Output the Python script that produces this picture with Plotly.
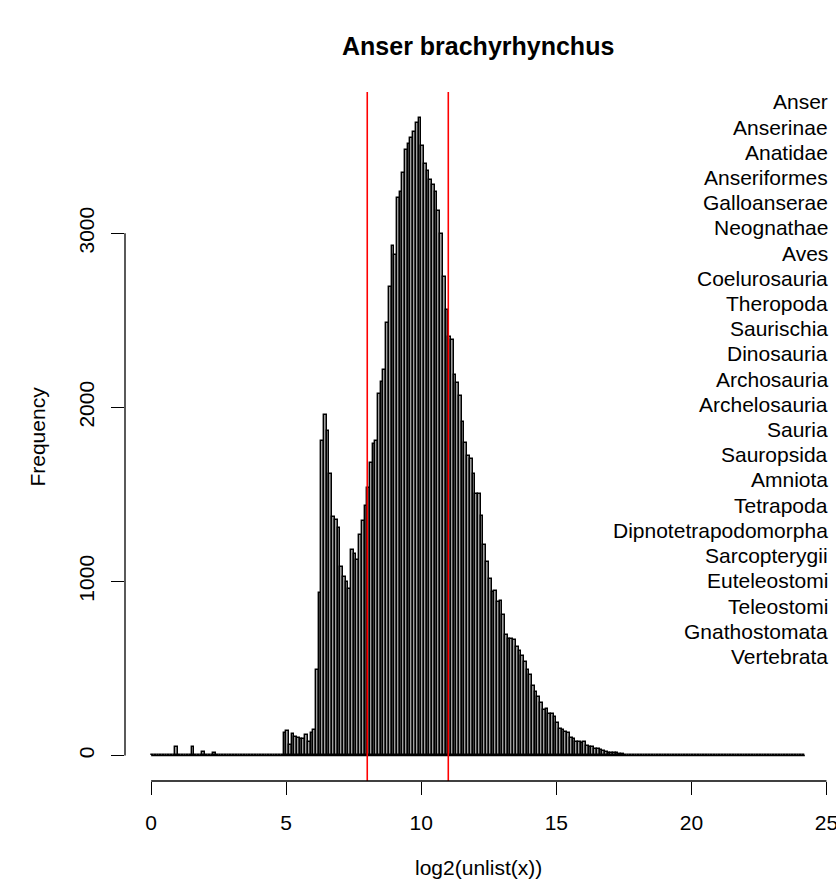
import plotly.graph_objects as go

# ---------------- data ----------------
title = "Anser brachyrhynchus"
x_label = "log2(unlist(x))"
y_label = "Frequency"

bin_start = 0.0
bin_width = 0.1

# bins with left edge 0.0 .. 4.8
counts_low = [0, 0, 0, 0, 0, 0, 0, 0, 0, 48,
              0, 0, 0, 0, 0, 48, 0, 0, 0, 19,
              0, 0, 0, 13, 0, 3, 0, 0, 4, 5,
              0, 3, 3, 0, 2, 2, 2, 2, 2, 2,
              2, 2, 3, 4, 3, 3, 4, 4, 5]
# bins with left edge 4.9 .. 17.6
counts_main = [130, 140, 60, 125, 109, 100, 92, 92, 115, 75,
               128, 148, 492, 933, 1805, 1958, 1862, 1619, 1370, 1351,
               1307, 1082, 1025, 996, 958, 1182, 1155, 1121, 1264, 1345,
               1431, 1538, 1680, 1791, 1804, 2075, 2146, 2216, 2485, 2692,
               2927, 2874, 3205, 3238, 3349, 3477, 3515, 3550, 3582, 3634,
               3665, 3500, 3400, 3358, 3305, 3276, 3238, 3128, 2998, 2749,
               2557, 2404, 2389, 2184, 2140, 2066, 1916, 1797, 1718, 1705,
               1615, 1504, 1500, 1376, 1207, 1111, 1015, 939, 945, 882,
               885, 805, 690, 671, 671, 661, 623, 600, 569, 536,
               492, 460, 397, 364, 335, 301, 259, 265, 240, 236,
               220, 186, 150, 148, 134, 128, 102, 97, 77, 80,
               70, 77, 56, 48, 50, 40, 38, 33, 25, 20,
               17, 17, 14, 12, 10, 8, 5, 3]
# bins with left edge 17.7 .. 24.1
counts_tail = [0, 0, 0, 0, 0, 0, 0, 0, 0, 0,
               0, 0, 0, 0, 0, 0, 0, 0, 0, 0,
               0, 0, 0, 0, 0, 0, 0, 0, 0, 0,
               0, 0, 0, 0, 0, 0, 0, 0, 0, 0,
               0, 0, 0, 0, 0, 0, 0, 0, 0, 0,
               0, 0, 0, 0, 0, 0, 0, 0, 0, 0,
               0, 0, 0, 0, 0]

vlines = [8, 11]
x_ticks = [0, 5, 10, 15, 20, 25]
y_ticks = [0, 1000, 2000, 3000]

taxa = ["Anser", "Anserinae", "Anatidae", "Anseriformes", "Galloanserae",
        "Neognathae", "Aves", "Coelurosauria", "Theropoda", "Saurischia",
        "Dinosauria", "Archosauria", "Archelosauria", "Sauria", "Sauropsida",
        "Amniota", "Tetrapoda", "Dipnotetrapodomorpha", "Sarcopterygii",
        "Euteleostomi", "Teleostomi", "Gnathostomata", "Vertebrata"]

# ---------------- derived ----------------
counts = counts_low + counts_main + counts_tail
edges = [round(bin_start + i * bin_width, 10) for i in range(len(counts) + 1)]
centers = [(edges[i] + edges[i + 1]) / 2 for i in range(len(counts))]

xmin, xmax = edges[0], edges[-1]
ymax = max(counts)
xr = [xmin - 0.04 * (xmax - xmin), xmax + 0.04 * (xmax - xmin)]
yr = [-0.04 * ymax, ymax * 1.04]

W, H = 836, 887
ML, MR, MT, MB = 125, 4.5, 92, 106
PW, PH = W - ML - MR, H - MT - MB


def px_x(px):
    return (px - ML) / PW


def px_y(py):
    return (H - MB - py) / PH


FONT = "Liberation Sans, Arial, Helvetica, sans-serif"
FS = 21

fig = go.Figure()
fig.add_trace(go.Bar(
    x=centers, y=counts, width=bin_width,
    marker=dict(color="#A0A0A0", line=dict(color="black", width=1.4)),
    hoverinfo="skip", showlegend=False,
))
fig.add_trace(go.Scatter(
    x=[xmin, xmax], y=[0, 0], mode="lines",
    line=dict(color="black", width=1.3), hoverinfo="skip", showlegend=False,
))

shapes = []
for v in vlines:
    shapes.append(dict(type="line", xref="x", yref="paper", x0=v, x1=v, y0=0, y1=1,
                       line=dict(color="red", width=1.6), layer="above"))
# axis spines (R style: from first to last tick)
shapes.append(dict(type="line", xref="x", yref="paper", x0=x_ticks[0], x1=x_ticks[-1],
                   y0=0, y1=0, line=dict(color="black", width=1.3)))
shapes.append(dict(type="line", xref="paper", yref="y", x0=0, x1=0,
                   y0=y_ticks[0], y1=y_ticks[-1], line=dict(color="black", width=1.3)))

annotations = [
    dict(text="<b>" + title + "</b>", xref="paper", yref="paper", x=0.5, y=px_y(46),
         xanchor="center", yanchor="middle", showarrow=False,
         font=dict(family=FONT, size=25, color="black")),
    dict(text=x_label, xref="paper", yref="paper", x=0.5, y=px_y(868),
         xanchor="center", yanchor="middle", showarrow=False,
         font=dict(family=FONT, size=FS, color="black")),
    dict(text=y_label, xref="paper", yref="paper", x=px_x(37), y=0.5, textangle=-90,
         xanchor="center", yanchor="middle", showarrow=False,
         font=dict(family=FONT, size=FS, color="black")),
]
for i, name in enumerate(taxa):
    annotations.append(dict(text=name, xref="paper", yref="paper", x=px_x(830),
                            y=px_y(102 + 25.2 * i), xanchor="right", yanchor="middle",
                            showarrow=False, font=dict(family=FONT, size=FS, color="black")))

fig.update_layout(
    width=W, height=H, autosize=False,
    margin=dict(l=ML, r=MR, t=MT, b=MB, pad=0, autoexpand=False),
    plot_bgcolor="white", paper_bgcolor="white",
    bargap=0, showlegend=False,
    font=dict(family=FONT, size=FS, color="black"),
    shapes=shapes, annotations=annotations,
    xaxis=dict(range=xr, tickmode="array", tickvals=x_ticks, ticktext=[str(t) for t in x_ticks],
               ticks="outside", ticklen=13, tickwidth=1.3, tickcolor="black",
               showline=False, showgrid=False, zeroline=False, automargin=False,
               ticklabeloverflow="allow", ticklabelstandoff=10,
               tickfont=dict(family=FONT, size=FS, color="black")),
    yaxis=dict(range=yr, tickmode="array", tickvals=y_ticks, ticktext=[str(t) for t in y_ticks],
               ticks="outside", ticklen=13, tickwidth=1.3, tickcolor="black", tickangle=-90,
               showline=False, showgrid=False, zeroline=False, automargin=False,
               ticklabeloverflow="allow", ticklabelstandoff=9,
               tickfont=dict(family=FONT, size=FS, color="black")),
)

fig.write_html(
    "out.html",
    config={"displayModeBar": False},
    post_script="document.body.style.margin='0';document.body.style.padding='0';"
                "document.body.style.overflow='hidden';",
)
